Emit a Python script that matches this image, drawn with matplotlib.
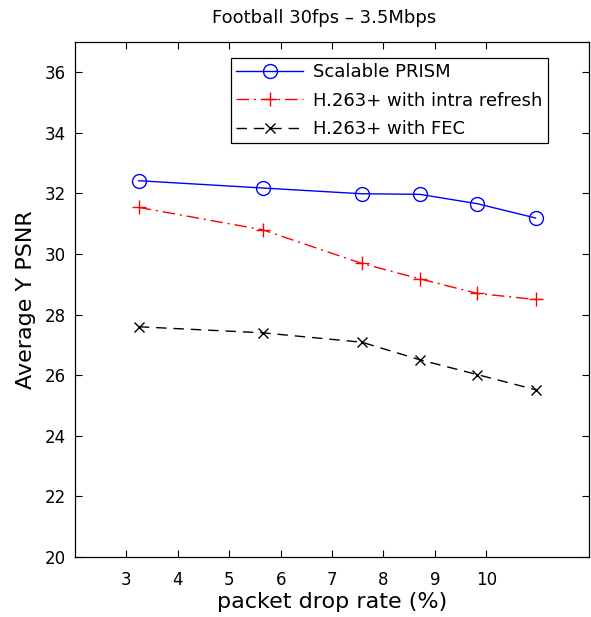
import matplotlib.pyplot as plt

plt.rcParams['font.family'] = ['DejaVu Sans']

# packet drop rate (%) at each test point
drop_rate = [3.24, 5.65, 7.58, 8.71, 9.83, 10.96]

# average Y PSNR for each scheme
prism = [32.42, 32.18, 31.99, 31.97, 31.66, 31.19]
intra = [31.54, 30.80, 29.69, 29.18, 28.70, 28.50]
fec = [27.60, 27.40, 27.09, 26.51, 26.02, 25.52]

xticks = [3, 4, 5, 6, 7, 8, 9, 10]
yticks = [20, 22, 24, 26, 28, 30, 32, 34, 36]

fig = plt.figure(figsize=(5.91, 6.17), dpi=100)
ax = fig.add_axes([0.127, 0.0972, 0.8696, 0.8348])

ax.plot(drop_rate, prism, color='blue', linestyle='-', linewidth=1.0,
        marker='o', markersize=10, markerfacecolor='none', markeredgewidth=1.0,
        label='Scalable PRISM')
ax.plot(drop_rate, intra, color='red', linestyle=(0, (9, 3.5, 1.5, 3.5)),
        linewidth=1.0, marker='+', markersize=10, markeredgewidth=1.0,
        label='H.263+ with intra refresh')
ax.plot(drop_rate, fec, color='black', linestyle=(0, (7.5, 5)), linewidth=1.0,
        marker='x', markersize=7.5, markeredgewidth=1.0,
        label='H.263+ with FEC')

ax.set_xlim(2, 12)
ax.set_ylim(20, 37)
ax.set_xticks(xticks)
ax.set_yticks(yticks)
ax.tick_params(direction='in', top=True, right=True, length=5, width=0.8,
               labelsize=12)
ax.tick_params(axis='x', pad=10)
ax.tick_params(axis='y', pad=6.5)
for s in ax.spines.values():
    s.set_linewidth(0.9)

ax.set_title('Football 30fps \u2013 3.5Mbps', fontsize=13, pad=14, x=0.485)
ax.set_xlabel('packet drop rate (%)', fontsize=16, labelpad=2)
ax.set_ylabel('Average Y PSNR', fontsize=16, labelpad=6)

leg = ax.legend(loc='upper left', bbox_to_anchor=(0.3035, 0.9695),
                borderaxespad=0, fontsize=13, handlelength=3.7,
                labelspacing=0.58, borderpad=0.3, handletextpad=0.55,
                fancybox=False, framealpha=1, edgecolor='black')
leg.get_frame().set_linewidth(0.9)

fig.savefig('out.png', dpi=100)
